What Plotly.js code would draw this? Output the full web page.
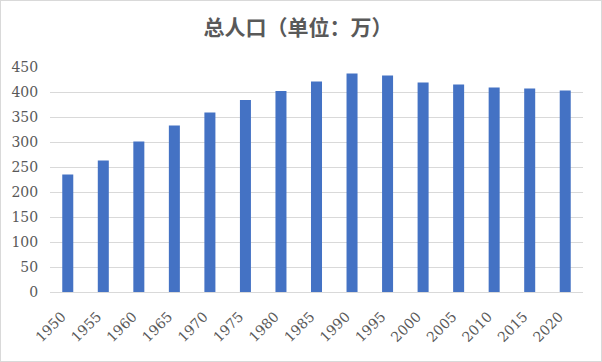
<!DOCTYPE html>
<html>
<head>
<meta charset="utf-8">
<script src="https://cdn.plot.ly/plotly-3.0.1.min.js"></script>
<style>
html,body{margin:0;padding:0;background:#fff;}
#chart{width:602px;height:362px;box-sizing:border-box;border:1px solid #d9d9d9;}
</style>
</head>
<body>
<div id="chart"></div>
<script>
const years = ['1950','1955','1960','1965','1970','1975','1980','1985','1990','1995','2000','2005','2010','2015','2020'];
const population = [235, 263, 301, 333, 359, 384, 402, 421, 437, 433, 419, 415, 409, 407, 403];
const yTicks = [0, 50, 100, 150, 200, 250, 300, 350, 400, 450];
const titleText = '总人口（单位：万）';
const serifFont = 'DejaVu Serif, serif';

const trace = {
  type: 'bar',
  x: years,
  y: population,
  marker: {color: '#4472c4'},
  hoverinfo: 'x+y'
};

const layout = {
  width: 600,
  height: 360,
  margin: {l: 49, r: 18, t: 66, b: 69},
  paper_bgcolor: '#ffffff',
  plot_bgcolor: '#ffffff',
  bargap: 0.69,
  showlegend: false,
  title: {
    text: titleText,
    font: {family: 'Noto Sans CJK SC, sans-serif', size: 21, color: '#595959', weight: 'bold'},
    x: 0.495, xanchor: 'center',
    y: 0.925, yanchor: 'middle'
  },
  xaxis: {
    type: 'category',
    tickangle: -45,
    tickfont: {family: serifFont, size: 14, color: '#595959'},
    showgrid: false,
    showline: true,
    linecolor: '#d9d9d9',
    linewidth: 1,
    ticks: '',
    ticklabelstandoff: 10,
    ticklabelshift: -6,
    fixedrange: true
  },
  yaxis: {
    range: [0, 450],
    tickvals: yTicks,
    tickfont: {family: serifFont, size: 14, color: '#595959'},
    showgrid: true,
    gridcolor: '#d9d9d9',
    gridwidth: 1,
    zeroline: false,
    showline: false,
    ticks: 'outside',
    ticklen: 8,
    tickcolor: 'rgba(0,0,0,0)',
    fixedrange: true
  }
};

Plotly.newPlot('chart', [trace], layout, {displayModeBar: false, staticPlot: true});
</script>
</body>
</html>
